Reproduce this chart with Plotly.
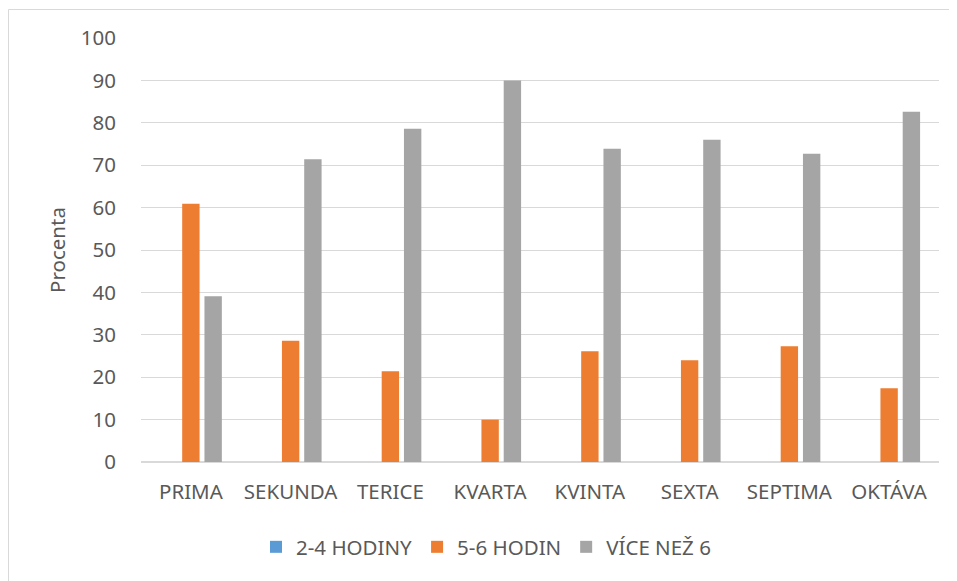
import plotly.graph_objects as go

categories = ["PRIMA", "SEKUNDA", "TERICE", "KVARTA", "KVINTA", "SEXTA", "SEPTIMA", "OKTÁVA"]
series_names = ["2-4 HODINY", "5-6 HODIN", "VÍCE NEŽ 6"]
hod_2_4 = [0, 0, 0, 0, 0, 0, 0, 0]
hod_5_6 = [60.9, 28.6, 21.4, 10.0, 26.1, 24.0, 27.3, 17.4]
vice_6 = [39.1, 71.4, 78.6, 90.0, 73.9, 76.0, 72.7, 82.6]
y_ticks = [0, 10, 20, 30, 40, 50, 60, 70, 80, 90, 100]
colors = ["#5B9BD5", "#ED7D31", "#A5A5A5"]

OFF = 8  # page body margin
W, H = 957 - OFF, 581 - OFF
L, R, T, B = 141 - OFF, 18, 38 - OFF, 119
pw, ph = W - L - R, H - T - B
FONT = "Noto Sans"
FS = 20.5
TXT = "#595959"

fig = go.Figure()
for name, vals, c in zip(series_names, [hod_2_4, hod_5_6, vice_6], colors):
    fig.add_trace(go.Bar(x=categories, y=vals, name=name, marker=dict(color=c, line=dict(width=0))))

# convert window pixel positions to paper coordinates
def px_x(p):
    return (p - OFF - L) / pw

def px_y(p):
    return (H - B - (p - OFF)) / ph

fig.update_layout(
    width=W, height=H,
    margin=dict(l=L, r=R, t=T, b=B, autoexpand=False),
    paper_bgcolor="white", plot_bgcolor="white",
    barmode="group", bargap=0.33, bargroupgap=0.22,
    font=dict(family=FONT, size=FS, color=TXT),
    showlegend=True,
    legend=dict(orientation="h", x=px_x(256), xanchor="left", y=px_y(547), yanchor="middle",
                font=dict(family=FONT, size=FS, color=TXT),
                traceorder="normal"),
    xaxis=dict(showgrid=False, showline=False, zeroline=False,
               ticks="outside", ticklen=11, tickcolor="rgba(0,0,0,0)",
               tickfont=dict(family=FONT, size=FS, color=TXT)),
    yaxis=dict(range=[0, 100], tickvals=y_ticks, showgrid=True, gridcolor="#D9D9D9", gridwidth=1.3,
               zeroline=True, zerolinecolor="#D9D9D9", zerolinewidth=1.5, showline=False,
               ticks="outside", ticklen=20, tickcolor="rgba(0,0,0,0)",
               tickfont=dict(family=FONT, size=FS, color=TXT),
               title=dict(text="Procenta", standoff=9, font=dict(family=FONT, size=FS, color=TXT))),
    shapes=[dict(type="rect", xref="paper", yref="paper",
                 x0=px_x(8.5), x1=px_x(957 + 5), y0=px_y(9.5), y1=px_y(581 + 5),
                 line=dict(color="#D9D9D9", width=1), fillcolor="rgba(0,0,0,0)", layer="below")],
)

fig.write_html("out.html")
